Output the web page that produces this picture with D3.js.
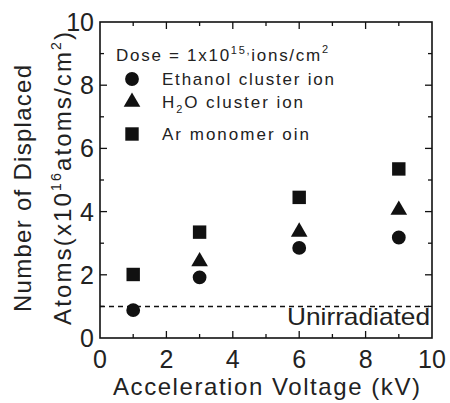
<!DOCTYPE html>
<html>
<head>
<meta charset="utf-8">
<script src="https://cdn.jsdelivr.net/npm/d3@7"></script>
<style>
  body { margin: 0; background: #fff; }
  svg { display: block; font-family: 'Liberation Sans', Arial, sans-serif; }
</style>
</head>
<body>
<div id="chart"></div>
<script>
// data
const voltages = [1, 3, 6, 9];
const ethanol = [0.88, 1.92, 2.85, 3.18];
const water = [null, 2.42, 3.36, 4.05];
const argon = [2.01, 3.35, 4.45, 5.35];
const waterX = [3, 6, 9];
const unirradiated = 1.0;
const xTicks = [0, 2, 4, 6, 8, 10];
const yTicks = [0, 2, 4, 6, 8, 10];

const width = 450, height = 403;
const margin = { top: 22, right: 18, bottom: 65, left: 100 };

const svg = d3.select('#chart').append('svg')
  .attr('width', width)
  .attr('height', height);

const x = d3.scaleLinear().domain([0, 10]).range([margin.left, width - margin.right]);
const y = d3.scaleLinear().domain([0, 10]).range([height - margin.bottom, margin.top]);

const x0 = x(0), x1 = x(10), y0 = y(0), y1 = y(10);

// minor + major ticks, pointing inward on all four sides
const minor = d3.range(1, 10, 2);
function tickLines(vals, len) {
  vals.forEach((v) => {
    svg.append('line').attr('x1', x(v)).attr('x2', x(v)).attr('y1', y0).attr('y2', y0 - len);
    svg.append('line').attr('x1', x(v)).attr('x2', x(v)).attr('y1', y1).attr('y2', y1 + len);
    svg.append('line').attr('y1', y(v)).attr('y2', y(v)).attr('x1', x0).attr('x2', x0 + len);
    svg.append('line').attr('y1', y(v)).attr('y2', y(v)).attr('x1', x1).attr('x2', x1 - len);
  });
}
tickLines(xTicks.slice(1, -1), 7);
tickLines(minor, 4);
svg.selectAll('line').attr('stroke', '#111').attr('stroke-width', 1.3);

svg.append('rect')
  .attr('x', x0).attr('y', y1)
  .attr('width', x1 - x0).attr('height', y0 - y1)
  .attr('fill', 'none').attr('stroke', '#111').attr('stroke-width', 1.6);

// tick labels
svg.append('g').selectAll('text').data(xTicks).enter().append('text')
  .attr('x', (d) => x(d)).attr('y', y0 + 30)
  .attr('text-anchor', 'middle').attr('font-size', 25).attr('fill', '#222')
  .text((d) => d);
svg.append('g').selectAll('text').data(yTicks).enter().append('text')
  .attr('x', x0 - 6).attr('y', (d) => y(d) + 9)
  .attr('text-anchor', 'end').attr('font-size', 25).attr('fill', '#222')
  .text((d) => d);

// axis titles
svg.append('text')
  .attr('x', 113).attr('y', 395)
  .attr('font-size', 24).attr('fill', '#222')
  .attr('textLength', 307).attr('lengthAdjust', 'spacing')
  .text('Acceleration Voltage (kV)');

const yl = svg.append('g').attr('transform', 'rotate(-90)');
yl.append('text')
  .attr('x', -312).attr('y', 31)
  .attr('font-size', 24).attr('fill', '#222')
  .attr('textLength', 247).attr('lengthAdjust', 'spacing')
  .text('Number of Displaced');
const yl2 = yl.append('text')
  .attr('x', -325).attr('y', 71)
  .attr('font-size', 24).attr('fill', '#222')
  .attr('textLength', 293).attr('lengthAdjust', 'spacing');
yl2.append('tspan').text('Atoms(x10');
yl2.append('tspan').attr('font-size', 14).attr('dy', -10).text('16');
yl2.append('tspan').attr('dy', 10).text('atoms/cm');
yl2.append('tspan').attr('font-size', 14).attr('dy', -10).text('2');
yl2.append('tspan').attr('dy', 10).text(')');

// unirradiated reference line
svg.append('line')
  .attr('x1', x0).attr('x2', x1)
  .attr('y1', y(unirradiated)).attr('y2', y(unirradiated))
  .attr('stroke', '#111').attr('stroke-width', 1.5)
  .attr('stroke-dasharray', '5,4');
svg.append('text')
  .attr('x', 287).attr('y', y0 - 13)
  .attr('font-size', 24).attr('fill', '#222')
  .attr('textLength', 143).attr('lengthAdjust', 'spacingAndGlyphs')
  .text('Unirradiated');

// markers
const circle = d3.symbol().type(d3.symbolCircle).size(150);
const tri = d3.symbol().type(d3.symbolTriangle).size(120);
const sq = d3.symbol().type(d3.symbolSquare).size(180);

svg.append('g').selectAll('path').data(voltages).enter().append('path')
  .attr('d', circle)
  .attr('transform', (d, i) => `translate(${x(d)},${y(ethanol[i])})`)
  .attr('fill', '#111');
svg.append('g').selectAll('path').data(waterX).enter().append('path')
  .attr('d', tri)
  .attr('transform', (d) => `translate(${x(d)},${y(water[voltages.indexOf(d)])})`)
  .attr('fill', '#111');
svg.append('g').selectAll('path').data(voltages).enter().append('path')
  .attr('d', sq)
  .attr('transform', (d, i) => `translate(${x(d)},${y(argon[i])})`)
  .attr('fill', '#111');

// legend
const lg = svg.append('g').attr('fill', '#222').attr('font-size', 17);
const dose = lg.append('text').attr('x', 116).attr('y', 61)
  .attr('textLength', 212).attr('lengthAdjust', 'spacing');
dose.append('tspan').text('Dose = 1x10');
dose.append('tspan').attr('font-size', 11).attr('dy', -7).text('15,');
dose.append('tspan').attr('dy', 7).text('ions/cm');
dose.append('tspan').attr('font-size', 11).attr('dy', -8).text('2');

const rows = [
  { sym: circle, y: 79, label: 'Ethanol cluster ion', len: 172 },
  { sym: tri, y: 102, label: 'H2O', len: 141 },
  { sym: sq, y: 134, label: 'Ar monomer oin', len: 147 },
];
rows.forEach((r) => {
  lg.append('path').attr('d', r.sym)
    .attr('transform', `translate(132,${r.y})`).attr('fill', '#111');
});
lg.append('text').attr('x', 162).attr('y', rows[0].y + 6)
  .attr('textLength', rows[0].len).attr('lengthAdjust', 'spacing').text(rows[0].label);
const h2o = lg.append('text').attr('x', 162).attr('y', rows[1].y + 6)
  .attr('textLength', rows[1].len).attr('lengthAdjust', 'spacing');
h2o.append('tspan').text('H');
h2o.append('tspan').attr('font-size', 11).attr('dy', 5).text('2');
h2o.append('tspan').attr('dy', -5).text('O cluster ion');
lg.append('text').attr('x', 162).attr('y', rows[2].y + 6)
  .attr('textLength', rows[2].len).attr('lengthAdjust', 'spacing').text(rows[2].label);
</script>
</body>
</html>
